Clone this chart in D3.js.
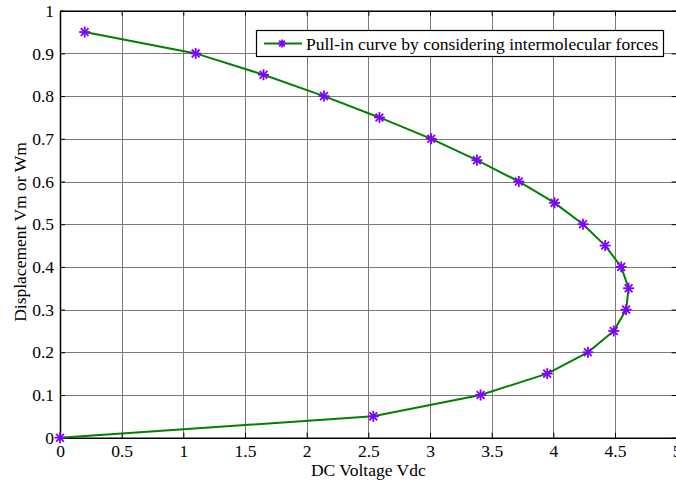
<!DOCTYPE html>
<html>
<head>
<meta charset="utf-8">
<script src="https://cdn.jsdelivr.net/npm/d3@7"></script>
<style>
  html, body { margin: 0; padding: 0; background: #fff; }
  svg { display: block; }
  text { font-family: "Liberation Serif", "Times New Roman", serif; fill: #000; }
</style>
</head>
<body>
<svg id="chart" width="676" height="482"></svg>
<script>
// Pull-in curve: DC voltage (x) against displacement (y)
const voltage = [0.20, 1.10, 1.65, 2.14, 2.59, 3.01, 3.38, 3.72, 4.01, 4.24, 4.42, 4.55, 4.61, 4.59, 4.49, 4.28, 3.95, 3.41, 2.54, 0];
const displacement = [0.95, 0.90, 0.85, 0.80, 0.75, 0.70, 0.65, 0.60, 0.55, 0.50, 0.45, 0.40, 0.35, 0.30, 0.25, 0.20, 0.15, 0.10, 0.05, 0];
const xTicks = [0, 0.5, 1, 1.5, 2, 2.5, 3, 3.5, 4, 4.5, 5];
const yTicks = [0, 0.1, 0.2, 0.3, 0.4, 0.5, 0.6, 0.7, 0.8, 0.9, 1];
const seriesName = "Pull-in curve by considering intermolecular forces";
const xLabel = "DC Voltage Vdc";
const yLabel = "Displacement Vm or Wm";

const svg = d3.select("#chart");
const plotLeft = 60, plotRight = 676.7, plotTop = 10.7, plotBottom = 437.7;
const fontSize = 17.5;

const x = d3.scaleLinear().domain([0, 5]).range([plotLeft, plotRight]);
const y = d3.scaleLinear().domain([0, 1]).range([plotBottom, plotTop]);

const lineColor = "#008000";
const markerColor = "#8000ff";

// grid
const grid = svg.append("g").attr("stroke", "#7a7a7a").attr("stroke-width", 1);
xTicks.forEach(t => {
  grid.append("line").attr("x1", Math.round(x(t)) + 0.5).attr("x2", Math.round(x(t)) + 0.5)
    .attr("y1", plotTop).attr("y2", plotBottom);
});
yTicks.forEach(t => {
  grid.append("line").attr("y1", Math.round(y(t)) + 0.5).attr("y2", Math.round(y(t)) + 0.5)
    .attr("x1", plotLeft).attr("x2", plotRight);
});

// axes with inward ticks
const tickLen = 5;
const fmt = d => d3.format("~g")(d);
const axisBottom = d3.axisBottom(x).tickValues(xTicks).tickFormat(fmt).tickSizeInner(-tickLen).tickSizeOuter(0).tickPadding(7);
const axisLeft = d3.axisLeft(y).tickValues(yTicks).tickFormat(fmt).tickSizeInner(-tickLen).tickSizeOuter(0).tickPadding(6);
const axisTop = d3.axisTop(x).tickValues(xTicks).tickFormat("").tickSizeInner(-tickLen).tickSizeOuter(0);
const axisRight = d3.axisRight(y).tickValues(yTicks).tickFormat("").tickSizeInner(-tickLen).tickSizeOuter(0);

function styleAxis(g) {
  g.attr("font-family", null);
  g.selectAll(".domain").attr("stroke", "#000").attr("stroke-width", 1.5);
  g.selectAll(".tick line").attr("stroke", "#000").attr("stroke-width", 1);
  g.selectAll(".tick text").attr("font-size", fontSize).attr("fill", "#000");
}
svg.append("g").attr("transform", `translate(0,${plotBottom})`).call(axisBottom).call(styleAxis);
svg.append("g").attr("transform", `translate(${plotLeft},0)`).call(axisLeft).call(styleAxis);
svg.append("g").attr("transform", `translate(0,${plotTop})`).call(axisTop).call(styleAxis);
svg.append("g").attr("transform", `translate(${plotRight},0)`).call(axisRight).call(styleAxis);

// axis titles
svg.append("text").attr("x", (plotLeft + plotRight) / 2).attr("y", 476).attr("text-anchor", "middle")
  .attr("font-size", fontSize).text(xLabel);
svg.append("text").attr("transform", `translate(26,232) rotate(-90)`)
  .attr("text-anchor", "middle").attr("font-size", fontSize).text(yLabel);

// data line
const pts = voltage.map((v, i) => [v, displacement[i]]);
svg.append("path").datum(pts)
  .attr("fill", "none").attr("stroke", lineColor).attr("stroke-width", 2)
  .attr("d", d3.line().x(d => x(d[0])).y(d => y(d[1])));

// asterisk markers
function asterisk(g, cx, cy, r) {
  const a = r * Math.SQRT1_2;
  const segs = [[-r, 0, r, 0], [0, -r, 0, r], [-a, -a, a, a], [-a, a, a, -a]];
  segs.forEach(s => g.append("line")
    .attr("x1", cx + s[0]).attr("y1", cy + s[1]).attr("x2", cx + s[2]).attr("y2", cy + s[3])
    .attr("stroke", markerColor).attr("stroke-width", 1.8));
}
const markers = svg.append("g");
pts.forEach(d => asterisk(markers, x(d[0]), y(d[1]), 5.5));

// legend
const lg = svg.append("g");
lg.append("rect").attr("x", 256.5).attr("y", 30.5).attr("width", 407).attr("height", 26)
  .attr("fill", "#fff").attr("stroke", "#000").attr("stroke-width", 1.2);
lg.append("line").attr("x1", 264).attr("x2", 302).attr("y1", 43.5).attr("y2", 43.5)
  .attr("stroke", lineColor).attr("stroke-width", 2);
asterisk(lg, 282, 43.5, 4);
lg.append("text").attr("x", 306).attr("y", 49.5).attr("font-size", fontSize).text(seriesName);
</script>
</body>
</html>
